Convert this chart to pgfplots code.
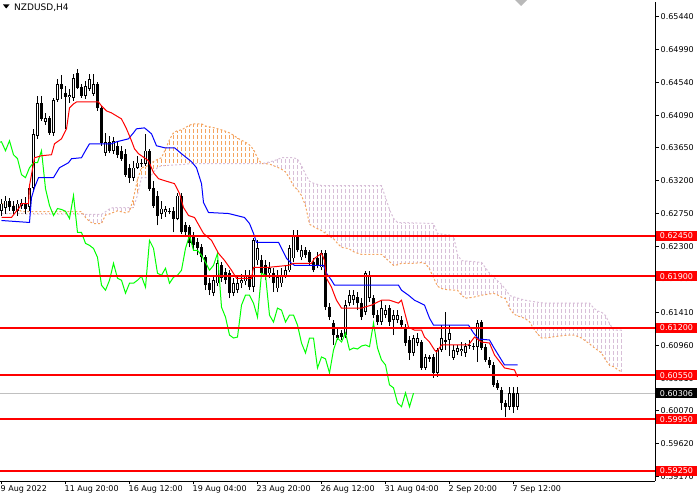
\documentclass[border=0pt]{standalone}
\usepackage{pgfplots}
\pgfplotsset{compat=1.18}
\usepackage{pgfplotstable}
\usepackage{fontspec}
\setmainfont{DejaVu Sans}

\definecolor{spanA}{HTML}{F4A460}
\definecolor{spanB}{HTML}{D8BFD8}
\definecolor{chikou}{HTML}{00FF00}
\definecolor{bidline}{HTML}{C0C0C0}

% H4 candles, bar index from 9 Aug 04:00
\pgfplotstableread{
i o h l c
0 .62794 .62957 .62726 .62889
1 .62835 .62998 .62753 .62930
2 .62930 .62970 .62794 .62848
3 .62862 .62930 .62740 .62794
4 .62794 .62943 .62726 .62889
5 .62862 .62957 .62821 .62902
6 .62902 .62984 .62753 .62821
7 .62848 .63133 .62794 .63106
8 .63106 .63907 .63065 .63839
9 .63812 .64355 .63771 .64260
10 .64260 .64355 .64015 .64042
11 .64002 .64124 .63961 .64056
12 .64056 .64083 .63825 .63853
13 .63853 .64328 .63812 .64300
14 .64300 .64585 .64273 .64518
15 .64518 .64640 .64314 .64450
16 .64395 .64490 .63907 .64341
17 .64341 .64450 .64260 .64368
18 .64328 .64653 .64287 .64599
19 .64667 .64721 .64450 .64463
20 .64477 .64518 .64328 .64355
21 .64355 .64558 .64314 .64490
22 .64450 .64653 .64423 .64585
23 .64382 .64653 .64355 .64518
24 .64518 .64545 .64151 .64192
25 .64192 .64219 .63676 .63717
26 .63581 .63853 .63540 .63730
27 .63730 .63812 .63581 .63608
28 .63608 .63798 .63568 .63744
29 .63676 .63744 .63513 .63554
30 .63608 .63676 .63473 .63500
31 .63568 .63635 .63255 .63282
32 .63377 .63432 .63174 .63242
33 .63242 .63473 .63201 .63377
34 .63377 .63540 .63364 .63445
35 .63432 .63500 .63391 .63445
36 .63432 .63839 .63405 .63608
37 .63608 .63635 .63065 .63092
38 .63106 .63201 .62835 .62862
39 .62998 .63065 .62590 .62726
40 .62753 .62930 .62685 .62821
41 .62767 .62862 .62712 .62808
42 .62794 .62835 .62740 .62784
43 .62794 .62848 .62495 .62685
44 .62685 .63038 .62658 .62998
45 .62998 .63038 .62468 .62495
46 .62590 .62631 .62441 .62495
47 .62563 .62590 .62292 .62346
48 .62455 .62495 .62251 .62319
49 .62360 .62414 .62183 .62278
50 .62292 .62332 .62088 .62156
51 .62156 .62183 .61708 .61776
52 .61803 .61871 .61640 .61708
53 .61667 .61912 .61627 .61844
54 .61803 .62115 .61762 .62075
55 .62047 .62088 .61817 .61871
56 .61952 .62007 .61790 .61844
57 .61939 .61980 .61600 .61667
58 .61667 .61871 .61627 .61803
59 .61708 .61912 .61667 .61803
60 .61803 .61925 .61735 .61844
61 .61830 .61980 .61776 .61898
62 .61885 .61980 .61708 .61749
63 .61749 .62414 .61681 .62387
64 .62115 .62387 .62047 .62278
65 .62115 .62183 .61898 .61939
66 .62047 .62115 .61844 .61912
67 .61939 .62088 .61871 .62007
68 .61939 .62007 .61681 .61803
69 .61735 .61980 .61681 .61885
70 .61803 .62007 .61749 .61912
71 .61912 .62047 .61871 .61980
72 .61980 .62319 .61952 .62278
73 .62142 .62522 .62088 .62455
74 .62455 .62522 .62224 .62251
75 .62156 .62319 .62115 .62251
76 .62251 .62292 .62142 .62183
77 .62224 .62251 .62047 .62088
78 .62088 .62142 .61952 .61980
79 .62142 .62224 .62007 .62047
80 .62020 .62251 .61980 .62210
81 .62210 .62251 .61437 .61477
82 .61477 .61532 .61301 .61342
83 .61260 .61301 .60962 .61097
84 .61097 .61192 .61030 .61057
85 .61125 .61165 .61030 .61070
86 .61097 .61572 .61057 .61505
87 .61532 .61708 .61491 .61640
88 .61572 .61708 .61505 .61640
89 .61613 .61681 .61437 .61532
90 .61532 .61600 .61301 .61342
91 .61409 .61966 .61369 .61939
92 .61600 .61966 .61545 .61912
93 .61600 .61640 .61328 .61369
94 .61369 .61437 .61233 .61274
95 .61274 .61572 .61233 .61464
96 .61369 .61505 .61328 .61437
97 .61464 .61505 .61220 .61274
98 .61301 .61437 .61097 .61369
99 .61301 .61437 .61260 .61369
100 .61301 .61355 .61192 .61233
101 .61206 .61247 .60948 .60989
102 .61030 .61084 .60758 .60853
103 .60853 .61097 .60812 .61057
104 .60989 .61125 .60948 .61057
105 .61002 .61030 .60622 .60649
106 .60649 .60839 .60622 .60799
107 .60799 .60826 .60731 .60772
108 .60799 .60839 .60514 .60581
109 .60581 .60921 .60527 .60894
110 .60894 .61233 .60867 .61057
111 .61030 .61409 .60894 .61002
112 .61030 .61233 .60812 .61125
113 .60785 .60962 .60758 .60894
114 .60867 .60962 .60826 .60921
115 .60880 .61002 .60812 .60907
116 .60853 .60989 .60799 .60948
117 .60948 .61030 .60907 .60962
118 .60948 .60989 .60894 .60938
119 .60934 .61301 .60731 .61260
120 .61274 .61301 .60894 .60921
121 .60934 .60975 .60731 .60758
122 .60758 .60799 .60649 .60690
123 .60690 .60731 .60392 .60419
124 .60446 .60487 .60351 .60378
125 .60351 .60392 .60079 .60174
126 .60174 .60215 .59984 .60120
127 .60120 .60392 .60079 .60310
128 .60310 .60392 .60039 .60120
129 .60120 .60392 .60079 .60306
}\candles

% Senkou span A and B (already shifted 26 bars ahead)
\pgfplotstableread{
i a b
0 .62889 .62753
1 .62879 .62753
2 .62871 .62753
3 .62862 .62753
4 .62821 .62753
5 .62780 .62753
6 .62780 .62746
7 .62780 .62746
8 .62780 .62746
9 .62780 .62746
10 .62780 .62746
11 .62780 .62746
12 .62780 .62746
13 .62780 .62746
14 .62780 .62746
15 .62780 .62746
16 .62780 .62746
17 .62780 .62746
18 .62780 .62746
19 .62780 .62746
20 .62780 .62746
21 .62699 .62742
22 .62645 .62741
23 .62617 .62740
24 .62617 .62740
25 .62617 .62740
26 .62733 .62778
27 .62746 .62816
28 .62769 .62835
29 .62790 .62835
30 .62776 .62835
31 .62763 .62835
32 .62780 .62835
33 .62964 .62835
34 .63217 .63007
35 .63377 .63242
36 .63392 .63242
37 .63414 .63242
38 .63462 .63315
39 .63490 .63380
40 .63513 .63405
41 .63630 .63406
42 .63758 .63409
43 .63855 .63413
44 .63882 .63417
45 .63893 .63421
46 .63924 .63425
47 .63957 .63432
48 .63975 .63432
49 .63975 .63432
50 .63975 .63432
51 .63945 .63432
52 .63934 .63432
53 .63923 .63432
54 .63908 .63432
55 .63892 .63432
56 .63874 .63432
57 .63851 .63432
58 .63820 .63432
59 .63781 .63432
60 .63751 .63432
61 .63724 .63432
62 .63687 .63432
63 .63625 .63432
64 .63510 .63432
65 .63432 .63432
66 .63432 .63444
67 .63427 .63456
68 .63405 .63470
69 .63383 .63490
70 .63357 .63513
71 .63319 .63513
72 .63235 .63513
73 .63129 .63513
74 .63076 .63493
75 .62998 .63405
76 .62859 .63288
77 .62607 .63192
78 .62574 .63166
79 .62546 .63150
80 .62522 .63133
81 .62483 .63133
82 .62444 .63133
83 .62410 .63133
84 .62346 .63133
85 .62292 .63133
86 .62284 .63133
87 .62269 .63133
88 .62233 .63133
89 .62212 .63133
90 .62197 .63133
91 .62197 .63133
92 .62197 .63133
93 .62197 .63133
94 .62197 .63133
95 .62197 .63133
96 .62147 .62970
97 .62098 .62808
98 .62047 .62688
99 .62054 .62631
100 .62075 .62630
101 .62075 .62628
102 .62075 .62627
103 .62075 .62626
104 .62079 .62623
105 .62084 .62622
106 .62070 .62620
107 .61997 .62619
108 .61880 .62617
109 .61762 .62480
110 .61731 .62474
111 .61719 .62467
112 .61714 .62461
113 .61708 .62455
114 .61708 .62190
115 .61640 .62111
116 .61600 .62107
117 .61605 .62102
118 .61613 .62098
119 .61627 .62092
120 .61640 .62088
121 .61648 .62013
122 .61657 .61939
123 .61666 .61889
124 .61644 .61837
125 .61613 .61787
126 .61594 .61722
127 .61463 .61636
128 .61387 .61619
129 .61357 .61602
130 .61342 .61585
131 .61319 .61571
132 .61278 .61562
133 .61188 .61553
134 .61113 .61545
135 .61057 .61537
136 .61059 .61532
137 .61065 .61532
138 .61074 .61532
139 .61081 .61532
140 .61087 .61532
141 .61093 .61532
142 .61097 .61532
143 .61097 .61532
144 .61080 .61532
145 .61057 .61532
146 .61017 .61532
147 .60978 .61532
148 .60932 .61468
149 .60892 .61425
150 .60853 .61410
151 .60759 .61363
152 .60686 .61256
153 .60667 .61165
154 .60629 .61165
155 .60595 .61165
}\cloud

% Tenkan-sen (red)
\pgfplotstableread{
x y
0 .62699
2.5 .62699
3.25 .62753
4.5 .62835
5 .62889
6.75 .62889
7 .63133
8 .63432
8.25 .63513
10 .63540
12.5 .63554
13.25 .63703
15 .63771
16.25 .63907
17 .64192
18 .64246
18.75 .64273
24.25 .64273
25 .64219
26.25 .64151
27.5 .64124
28.75 .64083
30 .64042
31.25 .63907
32.5 .63744
33.25 .63635
34.25 .63568
36.75 .63473
38 .63310
39.25 .63228
40.75 .63201
43.25 .63160
44.5 .63025
45.5 .62835
46.75 .62726
48.25 .62699
50.5 .62482
52.5 .62387
54.25 .62210
55.75 .62115
57.5 .61980
58.75 .61871
62.5 .61871
63 .62020
66.75 .62020
71.75 .62047
73 .62075
77.5 .62075
78.25 .62142
80 .62210
80.75 .62115
81.25 .61871
82.5 .61749
83.25 .61640
83.75 .61572
85 .61464
90 .61464
90.75 .61477
92.5 .61505
95 .61572
97 .61572
99.25 .61532
100 .61572
101.75 .61206
103.25 .61165
105 .61165
105.75 .61070
107 .61002
108.25 .60894
108.75 .60867
110 .60962
116.75 .60962
118.25 .61070
120 .61002
122 .60989
123.25 .60826
125.75 .60649
128.25 .60622
129 .60527
}\tenkan

% Kijun-sen (blue)
\pgfplotstableread{
x y
0 .62658
7 .62631
7.5 .62970
8.25 .63106
9.25 .63242
13 .63242
14.5 .63377
16.75 .63445
17.5 .63500
20 .63513
21.25 .63635
22 .63703
27.5 .63703
28.75 .63730
31.75 .63771
33 .63853
33.75 .63907
35.75 .63920
37.5 .63839
38.75 .63676
40.75 .63649
43.25 .63649
45 .63568
47.5 .63459
48.75 .63377
50 .63160
50.5 .62902
51.75 .62767
56.75 .62753
60.75 .62699
62 .62617
63 .62482
63.75 .62360
69.25 .62360
71.25 .62142
72.5 .62075
73.25 .62047
80.5 .62047
81.25 .61939
82.5 .61844
83.25 .61776
99.25 .61776
100 .61708
101.75 .61640
103.25 .61572
105.75 .61505
107 .61328
108 .61233
116.75 .61233
118 .61125
119.25 .61043
122 .61030
123 .60934
123.75 .60867
125.75 .60690
129 .60690
}\kijun

% one vertical segment per row: from y up by the given length
\pgfplotsset{
  stroke/.style={no marks, forget plot, -,
    quiver={u=0, v={#1}, every arrow/.append style={-}}},
}

\begin{document}
\begin{tikzpicture}[x=1pt,y=1pt]
\path[use as bounding box] (0,0) rectangle (700,500);
\begin{axis}[
    at={(0,26)}, anchor=south west,
    width=655pt, height=479pt, scale only axis,
    xmin=-0.375, xmax=163.375,
    ymin=0.59110, ymax=0.65636,
    axis x line*=bottom, axis y line*=right,
    axis line style={-, black, line width=0.8pt},
    tick align=outside, major tick length=3.5pt,
    tick style={black, line width=0.8pt},
    xtick={0,16,32,48,64,80,96,112,128},
    xticklabels={9 Aug 2022, 11 Aug 20:00, 16 Aug 12:00, 19 Aug 04:00, 23 Aug 20:00, 26 Aug 12:00, 31 Aug 04:00, 2 Sep 20:00, 7 Sep 12:00},
    ytick={0.6544,0.6499,0.6454,0.6409,0.6365,0.6320,0.6275,0.6230,0.6186,0.6141,0.6096,0.6051,0.6007,0.5962,0.5917},
    yticklabels={0.65440,0.64990,0.64540,0.64090,0.63650,0.63200,0.62750,0.62300,0.61860,0.61410,0.60960,0.60510,0.60070,0.59620,0.59170},
    ticklabel style={font=\fontsize{8}{9}\selectfont, inner sep=0pt},
    xticklabel style={anchor=north west, yshift=-1pt, xshift=-1pt},
    yticklabel style={anchor=west, xshift=2pt},
    minor tick num=0,
]
% cloud hatching: dotted combs per bar, A then B, then the part below both blanked
\addplot[ycomb, spanA, line width=1.2pt, dash pattern=on 4pt off 2pt, no marks, forget plot]
    table[x=i, y=a] {\cloud};
\addplot[ycomb, spanB, line width=1.2pt, dash pattern=on 4pt off 2pt, no marks, forget plot]
    table[x=i, y=b] {\cloud};
\addplot[ycomb, white, line width=2pt, no marks, forget plot]
    table[x=i, y expr={min(\thisrow{a},\thisrow{b})}] {\cloud};
\addplot[spanA, line width=1pt, no marks, dash pattern=on 2pt off 2pt, forget plot] table[x=i, y=a] {\cloud};
\addplot[spanB, line width=1pt, no marks, dash pattern=on 2pt off 2pt, forget plot] table[x=i, y=b] {\cloud};

% bid line
\addplot[bidline, line width=0.8pt, no marks, forget plot] coordinates {(-0.375,0.60306) (163.375,0.60306)};

% wicks
\addplot[black, line width=1pt, stroke={\thisrow{h}-\thisrow{l}}]
    table[x=i, y=l] {\candles};
% bearish bodies
\addplot[black, line width=3pt, stroke={max(\thisrow{o}-\thisrow{c},0)}]
    table[x=i, y=c] {\candles};
% bullish bodies: outline then white inside
\addplot[black, line width=3pt, stroke={max(\thisrow{c}-\thisrow{o},0)}]
    table[x=i, y=o] {\candles};
\addplot[white, line width=1pt, stroke={max(\thisrow{c}-\thisrow{o}-0.0002,0)},
    quiver/every arrow/.append style={draw=white}]
    table[x=i, y expr={\thisrow{o}+0.0001}] {\candles};

% chikou span = close shifted 26 bars back
\addplot[chikou, line width=1pt, no marks, forget plot] table[x expr={\thisrow{i}-26}, y=c] {\candles};
\addplot[blue, line width=1pt, no marks, forget plot] table[x=x, y=y] {\kijun};
\addplot[red, line width=1pt, no marks, forget plot] table[x=x, y=y] {\tenkan};

% horizontal levels
\addplot[red, line width=2pt, no marks, forget plot] coordinates {(-0.375,0.6245) (163.375,0.6245)};
\addplot[red, line width=2pt, no marks, forget plot] coordinates {(-0.375,0.6190) (163.375,0.6190)};
\addplot[red, line width=2pt, no marks, forget plot] coordinates {(-0.375,0.6120) (163.375,0.6120)};
\addplot[red, line width=2pt, no marks, forget plot] coordinates {(-0.375,0.6055) (163.375,0.6055)};
\addplot[red, line width=2pt, no marks, forget plot] coordinates {(-0.375,0.5995) (163.375,0.5995)};
\addplot[red, line width=2pt, no marks, forget plot] coordinates {(-0.375,0.5925) (163.375,0.5925)};

\coordinate (L1) at (axis cs:163.375,0.6245);
\coordinate (L2) at (axis cs:163.375,0.6190);
\coordinate (L3) at (axis cs:163.375,0.6120);
\coordinate (L4) at (axis cs:163.375,0.6055);
\coordinate (L5) at (axis cs:163.375,0.5995);
\coordinate (L6) at (axis cs:163.375,0.5925);
\coordinate (B0) at (axis cs:163.375,0.60306);
\end{axis}

\tikzset{lvbox/.style={anchor=west, xshift=0.8pt, fill=red, text=white, inner sep=0pt,
    minimum width=41pt, minimum height=10pt, font=\fontsize{8}{9}\selectfont}}
\node[lvbox] at (L1) {0.62450};
\node[lvbox] at (L2) {0.61900};
\node[lvbox] at (L3) {0.61200};
\node[lvbox] at (L4) {0.60550};
\node[lvbox] at (L5) {0.59950};
\node[lvbox] at (L6) {0.59250};
\node[lvbox, fill=black] at (B0) {0.60306};

% chart caption and shift marker
\fill[black] (3,495.5) -- (9.5,495.5) -- (6.25,491.5) -- cycle;
\node[anchor=west, inner sep=0pt, font=\fontsize{9}{10}\selectfont] at (14,492.5) {NZDUSD,H4};
\fill[gray!55] (515,500) -- (527,500) -- (521,494) -- cycle;
\end{tikzpicture}
\end{document}
